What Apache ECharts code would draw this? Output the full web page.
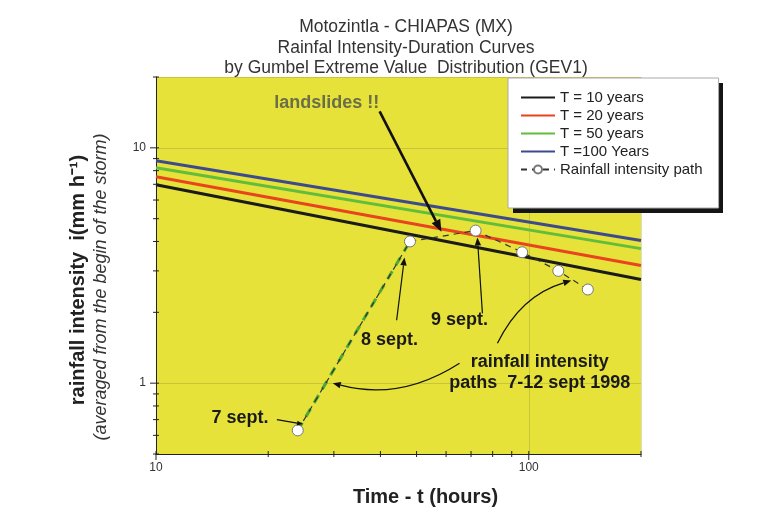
<!DOCTYPE html>
<html>
<head>
<meta charset="utf-8">
<script src="https://cdn.jsdelivr.net/npm/echarts@6/dist/echarts.min.js"></script>
<style>
  html, body { margin: 0; padding: 0; background: #fff; }
  #chart { width: 760px; height: 512px; }
</style>
</head>
<body>
<div id="chart"></div>
<script>
// IDF curves (straight lines in log-log), values at t = 10 h and t = 200 h
const tHours = [10, 200];
const t10 = [6.97, 2.76];
const t20 = [7.54, 3.16];
const t50 = [8.23, 3.73];
const t100 = [8.81, 4.04];

// observed rainfall intensity path, 7-12 sept 1998
const pathHours = [24, 48, 72, 96, 120, 144];
const pathIntensity = [0.63, 4.0, 4.45, 3.6, 3.0, 2.5];

// tick positions
const xTicks = [10, 20, 30, 40, 50, 60, 70, 80, 90, 100, 200];
const yTicks = [0.5, 0.6, 0.7, 0.8, 0.9, 1, 2, 3, 4, 5, 6, 7, 8, 9, 10, 20];

// annotations (data coordinates)
const noteTexts = ['landslides !!', '8 sept.', '9 sept.', '7 sept.', 'rainfall intensity\npaths  7-12 sept 1998'];
const noteX = [28.7, 42.3, 65.2, 16.8, 107];
const noteY = [15.5, 1.52, 1.85, 0.71, 1.11];
const arrowFrom = [[39.8, 14.3], [44.2, 1.85], [75.1, 1.98], [21.1, 0.70], [65.2, 1.216], [82.4, 1.477]];
const arrowTo = [[58.3, 4.4], [46.4, 3.42], [72.8, 4.16], [24.8, 0.67], [29.8, 1.0], [130, 2.73]];
const arrowCurve = [0, 0, 0, 0, 0.22, 0.22];

const FONT = '"Liberation Sans", Arial, sans-serif';

function isPow10(v) {
    const l = Math.log10(v);
    return Math.abs(l - Math.round(l)) < 1e-6;
}

function zip(xs, ys) {
    return xs.map((x, i) => [x, ys[i]]);
}

function idfSeries(name, ys, color) {
    return {
        name: name,
        type: 'line',
        data: zip(tHours, ys),
        smooth: false,
        symbol: 'none',
        lineStyle: { color: color, width: 3 },
        itemStyle: { color: color },
        z: 3
    };
}

const tickData = xTicks.map(v => [v, 0.5, 0]).concat(yTicks.map(v => [10, v, 1]));
const arrowData = arrowFrom.map((f, i) => [f[0], f[1], arrowTo[i][0], arrowTo[i][1], arrowCurve[i]]);

const myChart = echarts.init(document.getElementById('chart'), null, { renderer: 'canvas' });

myChart.setOption({
    animation: false,
    backgroundColor: '#fff',
    textStyle: { fontFamily: FONT },
    title: {
        text: 'Motozintla - CHIAPAS (MX)\nRainfal Intensity-Duration Curves\nby Gumbel Extreme Value  Distribution (GEV1)',
        left: 401,
        textAlign: 'center',
        top: 12,
        textStyle: { fontFamily: FONT, fontSize: 17.5, fontWeight: 'normal', color: '#333', lineHeight: 20.5 }
    },
    grid: { left: 156, right: 119, top: 77, bottom: 57, show: true, backgroundColor: '#e6e23a', borderWidth: 0 },
    legend: {
        orient: 'vertical',
        left: 508,
        top: 78,
        z: 10,
        backgroundColor: '#fff',
        borderColor: '#aaa',
        borderWidth: 1,
        padding: [12, 16, 31, 12],
        itemWidth: 34,
        itemHeight: 10,
        itemGap: 3,
        textStyle: { fontFamily: FONT, fontSize: 15, color: '#222' },
        data: [
            { name: 'T = 10 years', itemStyle: { opacity: 0 } },
            { name: 'T = 20 years', itemStyle: { opacity: 0 } },
            { name: 'T = 50 years', itemStyle: { opacity: 0 } },
            { name: 'T =100 Years', itemStyle: { opacity: 0 } },
            'Rainfall intensity path'
        ]
    },
    xAxis: {
        type: 'log',
        logBase: 10,
        min: 10,
        max: 200,
        axisLine: { lineStyle: { color: '#222', width: 1 } },
        axisTick: { show: false },
        axisLabel: { color: '#333', fontSize: 12, margin: 8, formatter: v => isPow10(v) ? String(Math.round(v)) : '' },
        splitLine: { show: true, lineStyle: { color: 'rgba(110,110,60,0.25)', width: 1 } },
        name: 'Time - t (hours)',
        nameLocation: 'middle',
        nameGap: 33,
        nameTextStyle: { fontFamily: FONT, fontSize: 20, fontWeight: 'bold', color: '#222', padding: [0, 0, 0, 54] }
    },
    yAxis: {
        type: 'log',
        logBase: 10,
        min: 0.5,
        max: 20,
        axisLine: { show: true, lineStyle: { color: '#222', width: 1 } },
        axisTick: { show: false },
        axisLabel: { color: '#333', fontSize: 12, margin: 10, formatter: v => isPow10(v) ? String(Math.round(v)) : '' },
        splitLine: { show: true, lineStyle: { color: 'rgba(110,110,60,0.25)', width: 1 } }
    },
    graphic: [
        {
            // hard drop shadow behind the legend box
            type: 'rect', z: 5, silent: true,
            shape: { x: 513, y: 83, width: 210, height: 130 },
            style: { fill: '#151515' }
        },
        {
            type: 'text', x: 78, y: 280, rotation: Math.PI / 2,
            style: { text: 'rainfall intensity  i(mm h\u207B\u00B9)', font: 'bold 20px ' + FONT, fill: '#222', align: 'center', verticalAlign: 'middle' }
        },
        {
            type: 'text', x: 101, y: 287, rotation: Math.PI / 2,
            style: { text: '(averaged from the begin of the storm)', font: 'italic 18px ' + FONT, fill: '#333', align: 'center', verticalAlign: 'middle' }
        }
    ],
    series: [
        idfSeries('T = 10 years', t10, '#1b1b1b'),
        idfSeries('T = 20 years', t20, '#e8451e'),
        idfSeries('T = 50 years', t50, '#62bd3c'),
        idfSeries('T =100 Years', t100, '#3d4b8e'),
        {
            // first leg of the path (7 -> 8 sept), thick green dashes
            name: 'path-leg',
            type: 'line',
            data: zip(pathHours.slice(0, 2), pathIntensity.slice(0, 2)),
            smooth: false,
            symbol: 'none',
            lineStyle: { color: '#4fa832', width: 3, type: [9, 7] },
            z: 4
        },
        {
            name: 'Rainfall intensity path',
            type: 'line',
            data: zip(pathHours, pathIntensity),
            smooth: false,
            symbol: 'circle',
            symbolSize: 11,
            lineStyle: { color: '#333', width: 1.2, type: [6, 5] },
            itemStyle: { color: '#fff', borderColor: '#777', borderWidth: 1 },
            z: 5
        },
        {
            name: 'ticks',
            type: 'custom',
            data: tickData,
            clip: false,
            silent: true,
            z: 6,
            renderItem: function (params, api) {
                const v0 = api.value(0), v1 = api.value(1);
                const p = api.coord([v0, v1]);
                const dir = api.value(2);
                const major = dir === 0 ? isPow10(v0) : isPow10(v1);
                const out = major ? 6 : 3;
                const shape = dir === 0
                    ? { x1: p[0], y1: p[1] - 3, x2: p[0], y2: p[1] + out }
                    : { x1: p[0] - out, y1: p[1], x2: p[0] + 3, y2: p[1] };
                return { type: 'line', shape: shape, style: { stroke: '#222', lineWidth: 1 } };
            }
        },
        {
            name: 'arrows',
            type: 'custom',
            data: arrowData,
            encode: { x: [0, 2], y: [1, 3] },
            clip: false,
            silent: true,
            z: 7,
            renderItem: function (params, api) {
                const a = api.coord([api.value(0), api.value(1)]);
                const b = api.coord([api.value(2), api.value(3)]);
                const c = api.value(4);
                const big = params.dataIndex === 0;
                const small = params.dataIndex === 3;
                const head = big ? 12 : (small ? 6 : 8);
                const lw = big ? 2.6 : 1.2;
                const cp = [(a[0] + b[0]) / 2 - (a[1] - b[1]) * c, (a[1] + b[1]) / 2 - (b[0] - a[0]) * c];
                const dx = b[0] - cp[0], dy = b[1] - cp[1];
                const len = Math.sqrt(dx * dx + dy * dy) || 1;
                const ux = dx / len, uy = dy / len;
                const base = [b[0] - ux * head, b[1] - uy * head];
                const hw = head * 0.4;
                return {
                    type: 'group',
                    children: [
                        {
                            type: 'bezierCurve',
                            shape: { x1: a[0], y1: a[1], x2: base[0], y2: base[1], cpx1: cp[0], cpy1: cp[1] },
                            style: { stroke: '#111', lineWidth: lw, fill: null }
                        },
                        {
                            type: 'polygon',
                            shape: { points: [b, [base[0] - uy * hw, base[1] + ux * hw], [base[0] + uy * hw, base[1] - ux * hw]] },
                            style: { fill: '#111' }
                        }
                    ]
                };
            }
        },
        {
            name: 'notes',
            type: 'line',
            data: [],
            z: 8,
            markPoint: {
                silent: true,
                symbol: 'circle',
                symbolSize: 0,
                data: noteTexts.map((t, i) => ({
                    coord: [noteX[i], noteY[i]],
                    label: {
                        show: true,
                        position: 'inside',
                        formatter: t,
                        fontFamily: FONT,
                        fontWeight: 'bold',
                        fontSize: 18,
                        lineHeight: 21,
                        color: i === 0 ? '#6a6f48' : '#1a1a1a',
                        align: 'center'
                    }
                }))
            }
        }
    ]
});
</script>
</body>
</html>
